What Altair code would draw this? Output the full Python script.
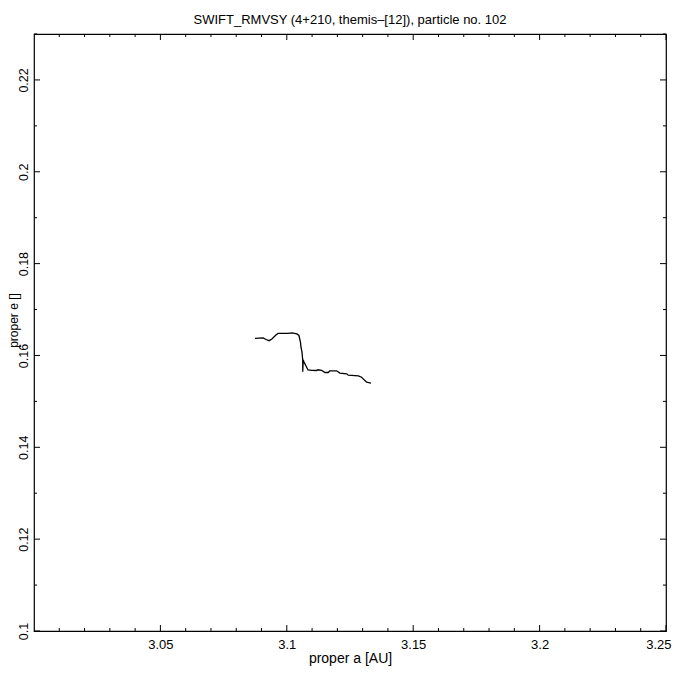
import altair as alt
import pandas as pd

# ---- data ----
a_vals = [3.0874, 3.0906, 3.0918, 3.0930, 3.0941, 3.0957, 3.0965, 3.0981, 3.1005, 3.1021,
          3.1040, 3.1048, 3.1054, 3.1056, 3.1060, 3.1063, 3.1063, 3.1065, 3.1068, 3.1076,
          3.1084, 3.1100, 3.1118, 3.1123, 3.1138, 3.1151, 3.1164, 3.1170, 3.1197, 3.1210,
          3.1237, 3.1243, 3.1283, 3.1296, 3.1309, 3.1316, 3.1333]
e_vals = [0.16374, 0.16381, 0.16348, 0.16322, 0.16359, 0.16446, 0.16479, 0.16483, 0.16479, 0.16490,
          0.16468, 0.16435, 0.16293, 0.16185, 0.16076, 0.15902, 0.15647, 0.15902, 0.15858, 0.15771,
          0.15684, 0.15676, 0.15673, 0.15688, 0.15673, 0.15629, 0.15629, 0.15666, 0.15666, 0.15615,
          0.15600, 0.15571, 0.15556, 0.15527, 0.15453, 0.15418, 0.15396]

x_major = [3.05, 3.1, 3.15, 3.2, 3.25]
x_minor = [3.01, 3.02, 3.03, 3.04, 3.06, 3.07, 3.08, 3.09, 3.11, 3.12, 3.13, 3.14,
           3.16, 3.17, 3.18, 3.19, 3.21, 3.22, 3.23, 3.24]
y_major = [0.1, 0.12, 0.14, 0.16, 0.18, 0.2, 0.22]
y_minor = [0.11, 0.13, 0.15, 0.17, 0.19, 0.21, 0.23]

title_text = "SWIFT_RMVSY (4+210, themis\u2013[12]), particle no. 102"
x_title = "proper a [AU]"
y_title = "proper e []"

W, H = 632, 597
FONT = "Liberation Sans"
MAJ, MIN = 6, 3

df = pd.DataFrame({"i": list(range(len(a_vals))), "a": a_vals, "e": e_vals})
xM = pd.DataFrame({"a": x_major})
xm = pd.DataFrame({"a": x_minor})
yM = pd.DataFrame({"e": y_major})
ym = pd.DataFrame({"e": y_minor})

xs = alt.Scale(domain=[3.0, 3.25], nice=False, zero=False)
ys = alt.Scale(domain=[0.1, 0.23], nice=False, zero=False)

line = alt.Chart(df).mark_line(color="black", strokeWidth=1.3).encode(
    x=alt.X("a:Q", scale=xs, title=x_title,
            axis=alt.Axis(values=x_major, format="~g", ticks=False, domain=False, grid=False,
                          labelFontSize=13, titleFontSize=14,
                          labelPadding=7, titlePadding=0, labelFlush=True, labelFlushOffset=5,
                          labelOverlap=False)),
    y=alt.Y("e:Q", scale=ys, title=y_title,
            axis=alt.Axis(values=y_major, format="~g", ticks=False, domain=False, grid=False,
                          labelFontSize=12.5, labelAngle=270, labelAlign="center", labelBaseline="bottom",
                          labelPadding=4, labelFlush=False, labelOverlap=False,
                          titleFontSize=12, titleAngle=270, titleAlign="center",
                          titleBaseline="top", titleX=-25.5, titleY=286)),
    order="i:O",
)


def xticks(d, L):
    bot = alt.Chart(d).mark_rule(color="black", strokeWidth=1).encode(
        x=alt.X("a:Q", scale=xs), y=alt.value(H), y2=alt.value(H - L))
    top = alt.Chart(d).mark_rule(color="black", strokeWidth=1).encode(
        x=alt.X("a:Q", scale=xs), y=alt.value(0), y2=alt.value(L))
    return [bot, top]


def yticks(d, L):
    lft = alt.Chart(d).mark_rule(color="black", strokeWidth=1).encode(
        y=alt.Y("e:Q", scale=ys), x=alt.value(0), x2=alt.value(L))
    rgt = alt.Chart(d).mark_rule(color="black", strokeWidth=1).encode(
        y=alt.Y("e:Q", scale=ys), x=alt.value(W), x2=alt.value(W - L))
    return [lft, rgt]


layers = [line] + xticks(xM, MAJ) + xticks(xm, MIN) + yticks(yM, MAJ) + yticks(ym, MIN)

chart = alt.layer(*layers).properties(
    width=W, height=H,
    title=alt.TitleParams(title_text, font=FONT, fontSize=13, fontWeight="normal",
                          color="black", offset=7),
    autosize=alt.AutoSizeParams(type="none"),
    padding={"left": 26, "top": 26, "right": 6, "bottom": 40},
).configure(background="white").configure_view(
    stroke="black", strokeWidth=1.2
).configure_axis(
    labelFont=FONT, labelColor="black",
    titleFont=FONT, titleFontWeight="normal", titleColor="black",
)

chart.save("out.html", embed_options={"renderer": "svg", "actions": False})
